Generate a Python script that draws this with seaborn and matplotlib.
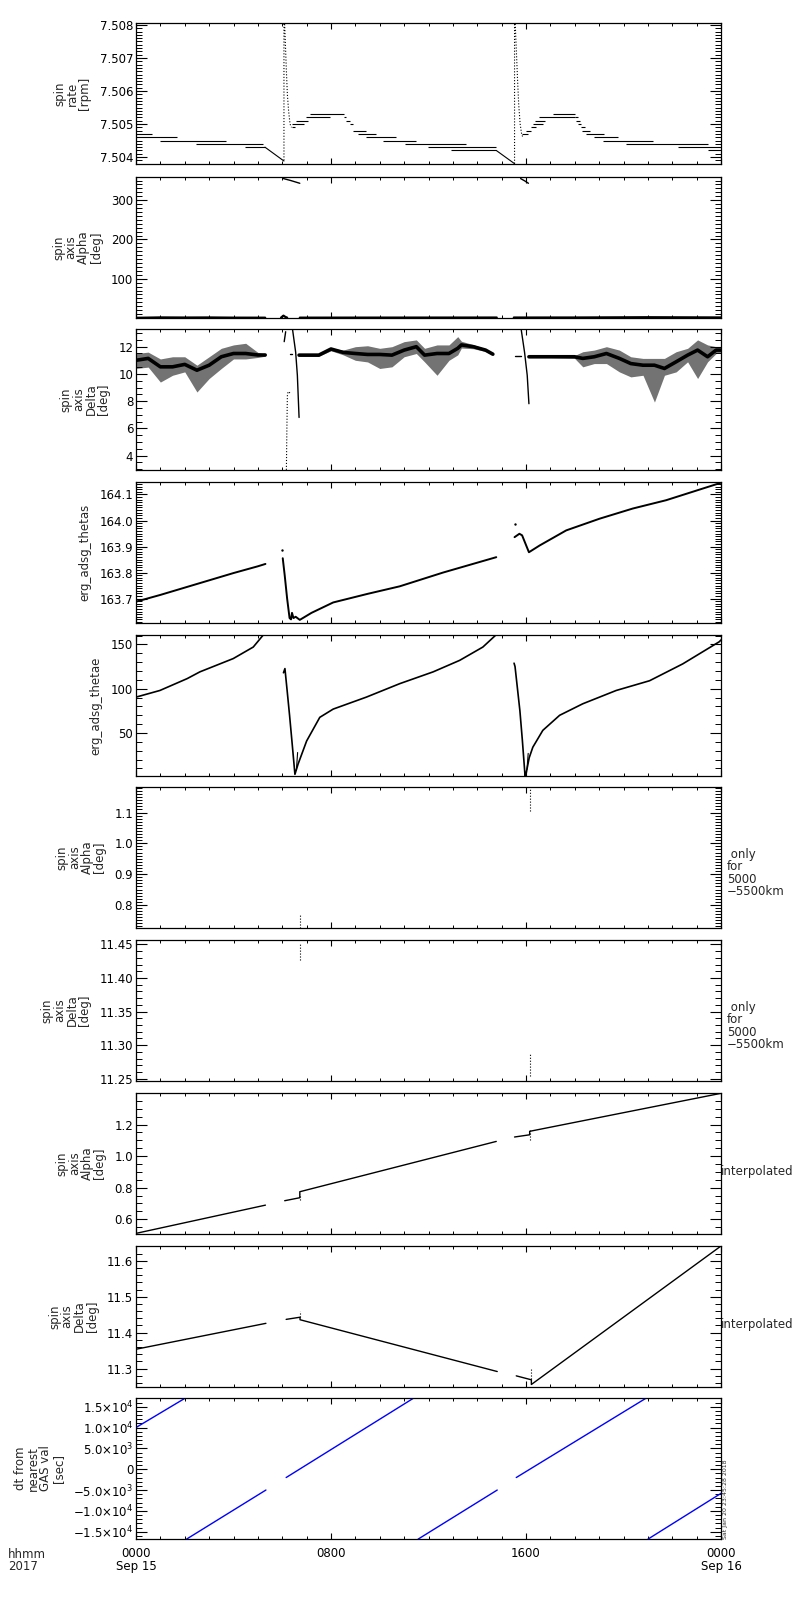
import seaborn as sns
import matplotlib
matplotlib.use('Agg')
import matplotlib.pyplot as plt
from matplotlib.ticker import MultipleLocator, FixedLocator

# time is in hours after 0000 UT, 2017 Sep 15

# ---- panel 1: spin rate [rpm] (quantised step levels)
rate_lvl = [7.5047, 7.5046, 7.5045, 7.5044, 7.5043,
            7.5049, 7.5050, 7.5051, 7.5052, 7.5053, 7.5052, 7.5051, 7.5050,
            7.5048, 7.5047, 7.5046, 7.5045, 7.5044, 7.5043, 7.5042,
            7.5047, 7.5048, 7.5049, 7.5050, 7.5051, 7.5052, 7.5053, 7.5052,
            7.5051, 7.5050, 7.5049, 7.5048, 7.5047, 7.5046, 7.5045, 7.5044,
            7.5043, 7.5042]
rate_start = [0.00, 0.00, 0.98, 2.48, 4.47,
              6.38, 6.38, 6.58, 6.97, 7.13, 8.54, 8.63, 8.77,
              8.91, 9.11, 9.45, 10.14, 11.03, 11.98, 12.94,
              15.85, 16.01, 16.22, 16.28, 16.35, 16.53, 17.10, 18.02,
              18.06, 18.13, 18.27, 18.31, 18.47, 18.78, 19.15, 20.11,
              22.23, 23.45]
rate_end = [0.64, 1.69, 3.71, 5.22, 5.29,
            6.52, 6.89, 7.06, 7.95, 8.54, 8.63, 8.77, 8.91,
            9.45, 9.86, 10.68, 11.50, 13.55, 14.78, 14.78,
            16.08, 16.22, 16.42, 16.69, 16.76, 17.99, 18.02, 18.13,
            18.20, 18.27, 18.40, 18.61, 19.22, 19.77, 21.20, 23.45,
            23.96, 23.96]
rate_ramp1_t = [5.29, 6.07]
rate_ramp1_v = [7.5043, 7.50388]
rate_ramp2_t = [14.78, 15.53]
rate_ramp2_v = [7.5042, 7.50380]
rate_spike1_t = [6.07, 6.07, 6.10, 6.13, 6.17, 6.21, 6.26, 6.32, 6.38]
rate_spike1_v = [7.5039, 7.5081, 7.5080, 7.5074, 7.5066, 7.5059, 7.5054, 7.5050, 7.5049]
rate_spike2_t = [15.53, 15.53, 15.56, 15.60, 15.65, 15.70, 15.76, 15.82, 15.87]
rate_spike2_v = [7.5038, 7.5081, 7.5080, 7.5073, 7.5064, 7.5056, 7.5050, 7.5047, 7.5046]

# ---- panel 2: spin axis alpha [deg] (0..360)
alpha_low_t = [[0.0, 1.0, 2.0, 3.0, 4.0, 5.3], [5.95, 6.05, 6.12, 6.2],
               [6.72, 9.0, 12.0, 14.8], [15.5, 18.0, 21.0, 24.0]]
alpha_low_v = [[0.5, 1.5, 1.2, 1.4, 0.9, 0.8], [1.0, 6.0, 3.0, 1.0],
               [0.9, 1.0, 1.1, 1.2], [1.2, 1.3, 2.0, 1.4]]
alpha_top_t = [[6.05, 6.35, 6.72], [15.78, 15.95, 16.10]]
alpha_top_v = [[355, 350, 343], [355, 349, 343]]

# ---- panel 3: spin axis delta [deg], noisy band (centre, low, high)
dA_t = [0.0, 0.5, 1.0, 1.5, 2.0, 2.5, 3.0, 3.5, 4.0, 4.5, 5.0, 5.3]
dA_mid = [11.0, 11.14, 10.52, 10.52, 10.7, 10.27, 10.64, 11.26, 11.5, 11.5, 11.39, 11.39]
dA_lo = [10.4, 10.5, 9.4, 9.9, 10.15, 8.67, 9.66, 10.4, 11.1, 11.1, 11.21, 11.3]
dA_hi = [11.5, 11.6, 11.1, 11.26, 11.26, 10.64, 11.26, 11.88, 12.13, 12.25, 11.58, 11.45]
dB_t = [6.69, 7.5, 8.0, 8.5, 9.0, 9.5, 10.0, 10.5, 11.0, 11.5, 11.84, 12.35,
        12.84, 13.2, 13.35, 13.84, 14.34, 14.64]
dB_mid = [11.38, 11.38, 11.83, 11.58, 11.5, 11.43, 11.43, 11.38, 11.75, 12.0, 11.38, 11.5,
          11.5, 11.88, 12.13, 12.0, 11.75, 11.45]
dB_lo = [11.33, 11.3, 11.7, 11.4, 11.0, 10.88, 10.4, 10.52, 11.26, 11.5, 10.88, 9.9,
         11.0, 11.4, 11.9, 11.85, 11.65, 11.4]
dB_hi = [11.43, 11.45, 11.9, 11.75, 12.0, 12.07, 11.88, 12.0, 12.37, 12.5, 11.88, 12.13,
         12.13, 12.74, 12.4, 12.15, 11.85, 11.5]
dC_t = [16.12, 17.0, 17.99, 18.33, 18.8, 19.3, 19.83, 20.3, 20.8, 21.27, 21.68, 22.16,
        22.63, 23.04, 23.45, 23.8, 24.0]
dC_mid = [11.26, 11.26, 11.26, 11.14, 11.26, 11.5, 11.14, 10.76, 10.64, 10.64, 10.4, 10.89,
          11.38, 11.75, 11.26, 11.75, 11.75]
dC_lo = [11.2, 11.2, 11.15, 10.52, 10.76, 10.76, 10.15, 9.78, 9.9, 7.93, 9.9, 10.15,
         10.89, 9.66, 10.89, 11.5, 11.6]
dC_hi = [11.3, 11.32, 11.35, 11.63, 11.75, 12.0, 11.75, 11.26, 11.14, 11.14, 11.14, 11.63,
         11.88, 12.5, 12.13, 12.0, 11.9]
# manoeuvre traces
delta_fall_t = [[6.42, 6.55, 6.62, 6.69], [15.80, 15.94, 16.05, 16.12]]
delta_fall_v = [[13.3, 11.6, 9.9, 6.8], [13.3, 11.6, 9.9, 7.81]]
delta_rise_t = [6.17, 6.19, 6.21, 6.24, 6.32]
delta_rise_v = [2.95, 6.0, 8.4, 8.7, 8.6]
delta_dash_t = [[6.08, 6.14], [6.31, 6.39], [15.53, 15.78]]
delta_dash_v = [[12.37, 13.1], [11.43, 11.43], [11.33, 11.33]]

# ---- panel 4: erg_adsg_thetas
ts_t = [[0.0, 1.0, 2.0, 3.0, 4.0, 5.0, 5.31],
        [6.02, 6.10, 6.20, 6.30, 6.36, 6.40, 6.46, 6.55, 6.72, 7.2, 8.09, 9.5,
         10.82, 12.6, 14.78],
        [15.53, 15.73, 15.84, 16.12, 16.56, 17.65, 19.02, 20.38, 21.75, 23.93, 24.0]]
ts_v = [[163.688, 163.714, 163.742, 163.770, 163.798, 163.824, 163.833],
        [163.855, 163.79, 163.70, 163.625, 163.62, 163.645, 163.625, 163.63, 163.618,
         163.645, 163.685, 163.718, 163.747, 163.80, 163.859],
        [163.936, 163.949, 163.943, 163.878, 163.904, 163.962, 164.007, 164.046,
         164.078, 164.143, 164.146]]
ts_dot_t = [5.98, 15.53]
ts_dot_v = [163.885, 163.986]

# ---- panel 5: erg_adsg_thetae
te_t = [[0.0, 0.98, 2.1, 2.62, 3.99, 4.81, 5.22],
        [6.05, 6.11, 6.2, 6.3, 6.4, 6.52, 6.65, 7.0, 7.54, 8.09, 9.45, 10.82,
         12.19, 13.28, 14.23, 14.78],
        [15.51, 15.55, 15.65, 15.75, 15.85, 15.96, 16.01, 16.13, 16.28, 16.69,
         17.38, 18.33, 19.7, 21.07, 22.43, 23.93, 24.0]]
te_v = [[90.5, 98, 111.4, 119, 134, 147, 160.6],
        [118, 122.7, 98, 70, 40, 3.4, 15, 41, 67.7, 77, 90.5, 105.7,
         119, 132, 147, 161],
        [128.8, 125, 100, 75, 42, 2, 5, 22, 34, 53, 70, 83, 98, 109, 128, 153, 155]]
te_branch_t = [[6.58, 6.63], [16.04, 16.09]]
te_branch_v = [[8, 28], [9, 27]]

# ---- panels 6/7: alpha/delta only for 5000-5500 km
a55_t = [[6.72, 6.72], [16.15, 16.15]]
a55_v = [[0.726, 0.77], [1.106, 1.179]]
d55_t = [[6.72, 6.72], [16.15, 16.15]]
d55_v = [[11.426, 11.45], [11.254, 11.287]]

# ---- panel 8: alpha interpolated
ai_t = [[0.0, 5.31], [6.10, 6.72, 6.72, 14.78], [15.53, 16.15, 16.15, 24.0]]
ai_v = [[0.51, 0.689], [0.717, 0.736, 0.774, 1.093], [1.121, 1.135, 1.157, 1.398]]
ai_tick_t = [[6.72, 6.72], [16.15, 16.15]]
ai_tick_v = [[0.72, 0.76], [1.10, 1.174]]

# ---- panel 9: delta interpolated
di_t = [[0.0, 5.33], [6.16, 6.73, 6.73, 14.82], [15.60, 16.22, 16.22, 24.0]]
di_v = [[11.354, 11.426], [11.437, 11.443, 11.436, 11.292], [11.280, 11.269, 11.256, 11.641]]
di_tick_t = [[6.73, 6.73], [16.22, 16.22]]
di_tick_v = [[11.443, 11.46], [11.27, 11.30]]

# ---- panel 10: dt from nearest GAS value [sec]
dt_t = [[0.0, 2.03], [2.07, 5.33], [6.16, 11.4], [11.57, 14.82], [15.6, 20.94], [21.0, 24.0]]
dt_v = [[10000, 17100], [-16800, -5000], [-2000, 17100], [-16800, -5000],
        [-2000, 17100], [-16800, -5800]]
dt_ticks = [-15000, -10000, -5000, 0, 5000, 10000, 15000]
dt_labels = [r'$-1.5{\times}10^{4}$', r'$-1.0{\times}10^{4}$', r'$-5.0{\times}10^{3}$', '0',
             r'$5.0{\times}10^{3}$', r'$1.0{\times}10^{4}$', r'$1.5{\times}10^{4}$']

x_ticks = [0, 8, 16, 24]
x_labels = ['0000\nSep 15', '0800', '1600', '0000\nSep 16']

sns.set_theme(style='ticks')
plt.rcParams['font.family'] = ['DejaVu Sans']
plt.rcParams.update({
    'xtick.direction': 'in', 'ytick.direction': 'in',
    'xtick.top': True, 'ytick.right': True,
    'axes.linewidth': 0.9, 'axes.edgecolor': 'black',
    'xtick.color': 'black', 'ytick.color': 'black',
    'xtick.labelsize': 8.5, 'ytick.labelsize': 8.5,
    'axes.labelsize': 8.5, 'mathtext.fontset': 'dejavusans',
})


def line(ax, t, v, color='black', lw=0.8, ls='-'):
    sns.lineplot(x=t, y=v, ax=ax, color=color, linewidth=lw, linestyle=ls,
                 sort=False, estimator=None, legend=False)


def band(ax, t, mid, lo, hi):
    # scatter of noisy samples: light envelope plus dense core
    ax.fill_between(t, lo, hi, color='black', alpha=0.55, linewidth=0)
    line(ax, t, mid, lw=2.6)


def style(ax, ylim, major, minor, label, fmt=None):
    ax.set_xlim(0, 24)
    ax.set_ylim(*ylim)
    ax.xaxis.set_major_locator(FixedLocator(x_ticks))
    ax.xaxis.set_minor_locator(MultipleLocator(1))
    ax.yaxis.set_major_locator(FixedLocator(major))
    ax.yaxis.set_minor_locator(MultipleLocator(minor))
    if fmt:
        ax.set_yticklabels([fmt % m for m in major])
    ax.tick_params(axis='y', which='major', length=8, width=0.8, pad=2)
    ax.tick_params(axis='y', which='minor', length=4, width=0.7)
    ax.tick_params(axis='x', which='major', length=4, width=0.8, pad=6)
    ax.tick_params(axis='x', which='minor', length=2, width=0.7)
    ax.tick_params(axis='x', labelbottom=False)
    ax.set_xlabel('')
    ax.set_ylabel(label, linespacing=0.95, labelpad=6)


fig = plt.figure(figsize=(8, 16), dpi=100)
tops = [23, 177, 329, 482, 635, 787, 940, 1093, 1246, 1398]
axes = [fig.add_axes([136 / 800, 1 - (tp + 141) / 1600, 585 / 800, 141 / 1600]) for tp in tops]
ax1, ax2, ax3, ax4, ax5, ax6, ax7, ax8, ax9, ax10 = axes

# panel 1
ax1.hlines(rate_lvl, rate_start, rate_end, color='black', linewidth=0.8)
line(ax1, rate_ramp1_t, rate_ramp1_v)
line(ax1, rate_ramp2_t, rate_ramp2_v)
line(ax1, rate_spike1_t, rate_spike1_v, ls=':')
line(ax1, rate_spike2_t, rate_spike2_v, ls=':')
style(ax1, (7.50379, 7.50806), [7.504, 7.505, 7.506, 7.507, 7.508], 0.0001,
      'spin\nrate\n[rpm]', '%.3f')

# panel 2
for t, v in zip(alpha_low_t, alpha_low_v):
    line(ax2, t, v, lw=1.6)
for t, v in zip(alpha_top_t, alpha_top_v):
    line(ax2, t, v, lw=1.0)
style(ax2, (0, 359), [100, 200, 300], 10, 'spin\naxis\nAlpha\n[deg]', '%d')

# panel 3
band(ax3, dA_t, dA_mid, dA_lo, dA_hi)
band(ax3, dB_t, dB_mid, dB_lo, dB_hi)
band(ax3, dC_t, dC_mid, dC_lo, dC_hi)
for t, v in zip(delta_fall_t, delta_fall_v):
    line(ax3, t, v, lw=1.0)
line(ax3, delta_rise_t, delta_rise_v, ls=':')
for t, v in zip(delta_dash_t, delta_dash_v):
    line(ax3, t, v, lw=1.0)
style(ax3, (2.94, 13.3), [4, 6, 8, 10, 12], 0.5, 'spin\naxis\nDelta\n[deg]', '%d')

# panel 4
for t, v in zip(ts_t, ts_v):
    line(ax4, t, v, lw=1.4)
sns.scatterplot(x=ts_dot_t, y=ts_dot_v, ax=ax4, color='black', s=3, linewidth=0, legend=False)
style(ax4, (163.606, 164.148), [163.7, 163.8, 163.9, 164.0, 164.1], 0.01,
      'erg_adsg_thetas', '%.1f')

# panel 5
for t, v in zip(te_t, te_v):
    line(ax5, t, v, lw=1.2)
for t, v in zip(te_branch_t, te_branch_v):
    line(ax5, t, v, lw=0.8)
style(ax5, (1.5, 160.6), [50, 100, 150], 10, 'erg_adsg_thetae', '%d')

# panel 6
for t, v in zip(a55_t, a55_v):
    line(ax6, t, v, ls=':')
style(ax6, (0.725, 1.183), [0.8, 0.9, 1.0, 1.1], 0.01, 'spin\naxis\nAlpha\n[deg]', '%.1f')
ax6.text(1.01, 0.39, ' only\nfor\n5000\n\u22125500km', transform=ax6.transAxes,
         ha='left', va='center', fontsize=8.5, linespacing=0.95)

# panel 7
for t, v in zip(d55_t, d55_v):
    line(ax7, t, v, ls=':')
style(ax7, (11.2465, 11.4565), [11.25, 11.30, 11.35, 11.40, 11.45], 0.01,
      'spin\naxis\nDelta\n[deg]', '%.2f')
ax7.text(1.01, 0.39, ' only\nfor\n5000\n\u22125500km', transform=ax7.transAxes,
         ha='left', va='center', fontsize=8.5, linespacing=0.95)

# panel 8
for t, v in zip(ai_t, ai_v):
    line(ax8, t, v, lw=1.0)
for t, v in zip(ai_tick_t, ai_tick_v):
    line(ax8, t, v, ls=':')
style(ax8, (0.506, 1.40), [0.6, 0.8, 1.0, 1.2], 0.05, 'spin\naxis\nAlpha\n[deg]', '%.1f')
ax8.text(1.0, 0.44, 'interpolated', transform=ax8.transAxes,
         ha='left', va='center', fontsize=8.5)

# panel 9
for t, v in zip(di_t, di_v):
    line(ax9, t, v, lw=1.0)
for t, v in zip(di_tick_t, di_tick_v):
    line(ax9, t, v, ls=':')
style(ax9, (11.249, 11.641), [11.3, 11.4, 11.5, 11.6], 0.02, 'spin\naxis\nDelta\n[deg]', '%.1f')
ax9.text(1.0, 0.44, 'interpolated', transform=ax9.transAxes,
         ha='left', va='center', fontsize=8.5)

# panel 10
for t, v in zip(dt_t, dt_v):
    line(ax10, t, v, color='#0000ff', lw=1.0)
style(ax10, (-16755, 17090), dt_ticks, 1000, 'dt from\nnearest\nGAS val\n[sec]')
ax10.set_yticklabels(dt_labels)
ax10.tick_params(axis='x', labelbottom=True)
ax10.set_xticklabels(x_labels, fontsize=8.5, linespacing=0.95)

fig.text(8 / 800, 1 - 1548 / 1600, 'hhmm\n2017', ha='left', va='top', fontsize=8.5,
         linespacing=0.95)
fig.text(723 / 800, 1 - 1539 / 1600, 'Sat Jan 20 23:45:28 2018', rotation=90,
         ha='left', va='bottom', fontsize=4.5)

fig.savefig('out.png', dpi=100, facecolor='white')
